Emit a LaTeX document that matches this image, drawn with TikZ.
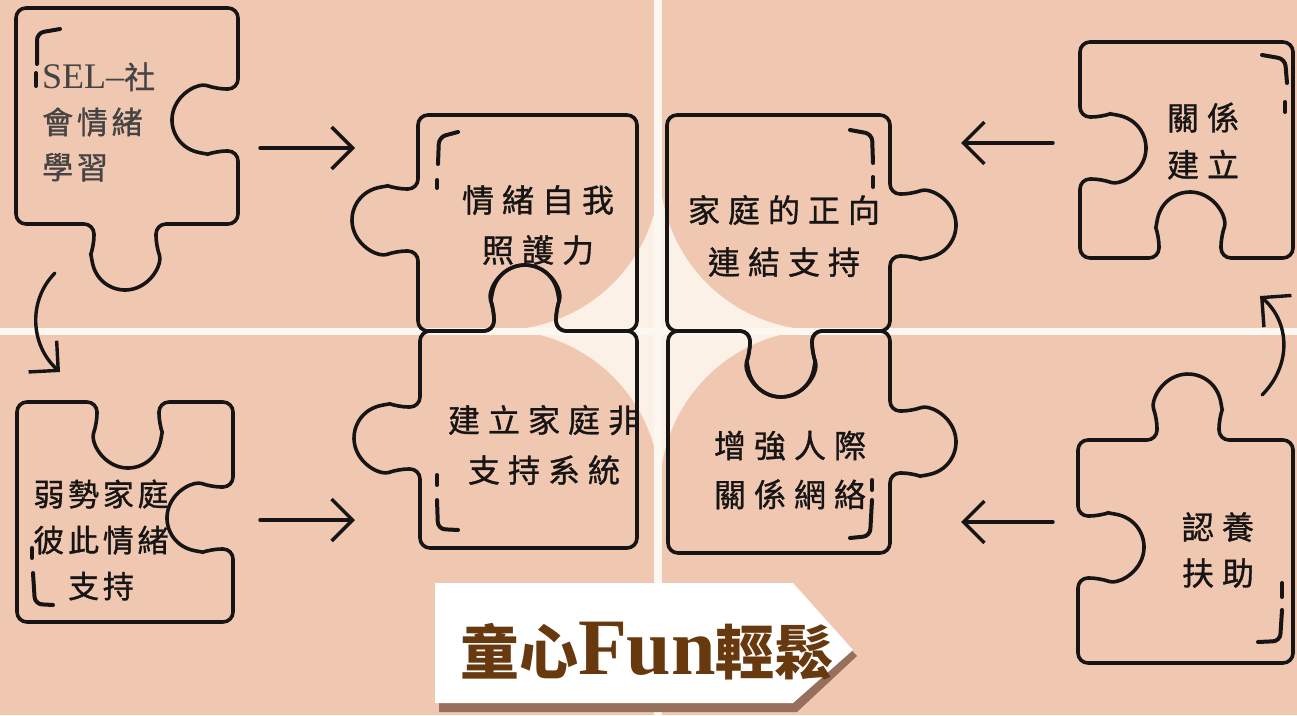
\documentclass[tikz,border=0pt]{standalone}
\usepackage{fontspec}
\setmainfont{Liberation Serif}
\newfontfamily\cjk[LetterSpace=25,FakeBold=1]{Noto Sans CJK TC}
\newfontfamily\cjkn[LetterSpace=12,FakeBold=1]{Noto Sans CJK TC}
\newfontfamily\cjkt{Noto Sans CJK TC}
\usetikzlibrary{arrows.meta}
\definecolor{peach}{RGB}{240,200,177}
\definecolor{cream}{RGB}{251,241,231}
\definecolor{bandw}{RGB}{253,247,241}
\definecolor{ink}{RGB}{22,20,20}
\definecolor{titlebrown}{RGB}{104,56,14}
\definecolor{shadowc}{RGB}{150,112,92}
\tikzset{
  piece/.style={draw=ink, line width=3.6pt, rounded corners=10pt, line join=round},
  brk/.style={draw=ink, line width=4pt, line cap=round, rounded corners=7pt},
  arr/.style={draw=ink, line width=3.4pt, line cap=round, -{Straight Barb[length=21pt,width=42pt]}},
  lbl/.style={text=ink, align=center, inner sep=0pt},
  cjksize/.style={font=\cjk\fontsize{32}{#1}\selectfont},
  cjknarrow/.style={font=\cjkn\fontsize{31}{#1}\selectfont},
}
\begin{document}
\begin{tikzpicture}[x=1pt,y=1pt,yscale=-1]
\useasboundingbox (0,0) rectangle (1297,715);
% background
\fill[peach] (0,0) rectangle (1297,715);
\fill[cream] (500,170) rectangle (820,490);
\fill[peach] (500,170) circle[radius=160];
\fill[peach] (820,170) circle[radius=160];
\fill[peach] (500,490) circle[radius=160];
\fill[peach] (820,490) circle[radius=160];
\fill[bandw] (654,0) rectangle (662,715);
\fill[bandw] (0,328) rectangle (1297,335);

% puzzle pieces
\draw[piece] (16,120) -- (16,8) -- (238,8) -- (238,89) -- (216.3,89) arc[start angle=-70,end angle=-290,radius=33] -- (238,151) -- (238,224) -- (156,224) -- (156,245.7) arc[start angle=-20,end angle=200,radius=33] -- (94,224) -- (16,224) -- cycle;
\draw[piece] (418,150) -- (418,115) -- (637,115) -- (637,331) -- (556,331) -- (556,309.3) arc[start angle=20,end angle=-200,radius=33] -- (494,331) -- (418,331) -- (418,251) -- (396.3,251) arc[start angle=70,end angle=290,radius=33] -- (418,189) -- cycle;
\draw[piece] (470,331) -- (494,331) -- (494,309.3) arc[start angle=160,end angle=380,radius=33] -- (556,331) -- (637,331) -- (637,548) -- (420,548) -- (420,469) -- (398.3,469) arc[start angle=70,end angle=290,radius=33] -- (420,407) -- (420,331) -- cycle;
\draw[piece] (700,115) -- (890,115) -- (890,194) -- (911.7,194) arc[start angle=-110,end angle=110,radius=33] -- (890,256) -- (890,331) -- (812,331) -- (812,352.7) arc[start angle=-20,end angle=200,radius=33] -- (750,331) -- (667,331) -- (667,115) -- cycle;
\draw[piece] (700,331) -- (750,331) -- (750,352.7) arc[start angle=200,end angle=-20,radius=33] -- (812,331) -- (890,331) -- (890,411) -- (911.7,411) arc[start angle=-110,end angle=110,radius=33] -- (890,473) -- (890,553) -- (668,553) -- (668,331) -- cycle;
\draw[piece] (1150,42) -- (1293,42) -- (1293,258) -- (1221,258) -- (1221,236.3) arc[start angle=20,end angle=-200,radius=33] -- (1159,258) -- (1080,258) -- (1080,179) -- (1101.7,179) arc[start angle=110,end angle=-110,radius=33] -- (1080,117) -- (1080,42) -- cycle;
\draw[piece] (1120,440) -- (1157,440) -- (1157,418.3) arc[start angle=160,end angle=380,radius=33] -- (1219,440) -- (1293,440) -- (1293,663) -- (1078,663) -- (1078,578) -- (1099.7,578) arc[start angle=110,end angle=-110,radius=33] -- (1078,516) -- (1078,440) -- cycle;
\draw[piece] (50,402) -- (97,402) -- (97,423.7) arc[start angle=200,end angle=-20,radius=33] -- (159,402) -- (233,402) -- (233,487) -- (211.3,487) arc[start angle=-70,end angle=-290,radius=33] -- (233,549) -- (233,622) -- (17,622) -- (17,402) -- cycle;

% corner brackets
\draw[brk] (60,29) -- (37,33) -- (37,64);
\draw[brk] (36,73) -- (36,86);
\draw[brk] (458,132) -- (439,137) -- (438,164);
\draw[brk] (437,180) -- (437,188);
\draw[brk] (850,130) -- (872,134) -- (873,163);
\draw[brk] (873,177) -- (873,187);
\draw[brk] (1262,55) -- (1285,59) -- (1287,83);
\draw[brk] (1285,102) -- (1285,112);
\draw[brk] (437,475) -- (437,485);
\draw[brk] (437,500) -- (438,529) -- (458,530);
\draw[brk] (872,480) -- (872,490);
\draw[brk] (872,500) -- (870,536) -- (850,538);
\draw[brk] (1282,583) -- (1282,597);
\draw[brk] (1282,610) -- (1280,641) -- (1258,642);
\draw[brk] (32,548) -- (32,558);
\draw[brk] (33,573) -- (35,604) -- (53,605);

% labels
\node[lbl,cjknarrow=45,align=left,anchor=west,text=ink!80] (t1) at (42,122) {{\rmfamily\mdseries\fontsize{36}{45}\selectfont SEL–}社\\會情緒\\學習};
\node[lbl,cjksize=50] (t2) at (538,225) {情緒自我\\照護力};
\node[lbl,cjksize=50] (t3) at (544,445) {建立家庭非\\支持系統};
\node[lbl,cjksize=52] (t4) at (784,236) {家庭的正向\\連結支持};
\node[lbl,cjksize=49] (t5) at (790,470) {增強人際\\關係網絡};
\node[lbl,cjksize=47] (t6) at (1203,141) {關係\\建立};
\node[lbl,cjksize=46] (t7) at (1218,550) {認養\\扶助};
\node[lbl,cjknarrow=46] (t8) at (101,540) {弱勢家庭\\彼此情緒\\支持};

% arrows
\coordinate (a1s) at (260,148); \coordinate (a1e) at (355,148);
\coordinate (a2s) at (260,520); \coordinate (a2e) at (355,520);
\coordinate (a3s) at (1053,143); \coordinate (a3e) at (961,143);
\coordinate (a4s) at (1053,522); \coordinate (a4e) at (961,522);
\coordinate (c1s) at (55,273); \coordinate (c1e) at (60,372);
\coordinate (c2s) at (1262,395); \coordinate (c2e) at (1260,296);
\draw[arr] (a1s) -- (a1e);
\draw[arr] (a2s) -- (a2e);
\draw[arr] (a3s) -- (a3e);
\draw[arr] (a4s) -- (a4e);
\draw[arr] (c1s) .. controls (28,300) and (30,345) .. (c1e);
\draw[arr] (c2s) .. controls (1292,365) and (1290,322) .. (c2e);

% banner
\fill[shadowc] (439,592) -- (797,592) -- (857,656) -- (797,712) -- (439,712) -- cycle;
\fill[white] (435,583) -- (793,583) -- (853,650) -- (793,703) -- (435,703) -- cycle;
\node[text=titlebrown, inner sep=0pt] (title) at (647,651) {\cjkt\bfseries\fontsize{59}{62}\selectfont 童心{\rmfamily\bfseries\fontsize{80}{62}\selectfont Fun}輕鬆};
\end{tikzpicture}
\end{document}
